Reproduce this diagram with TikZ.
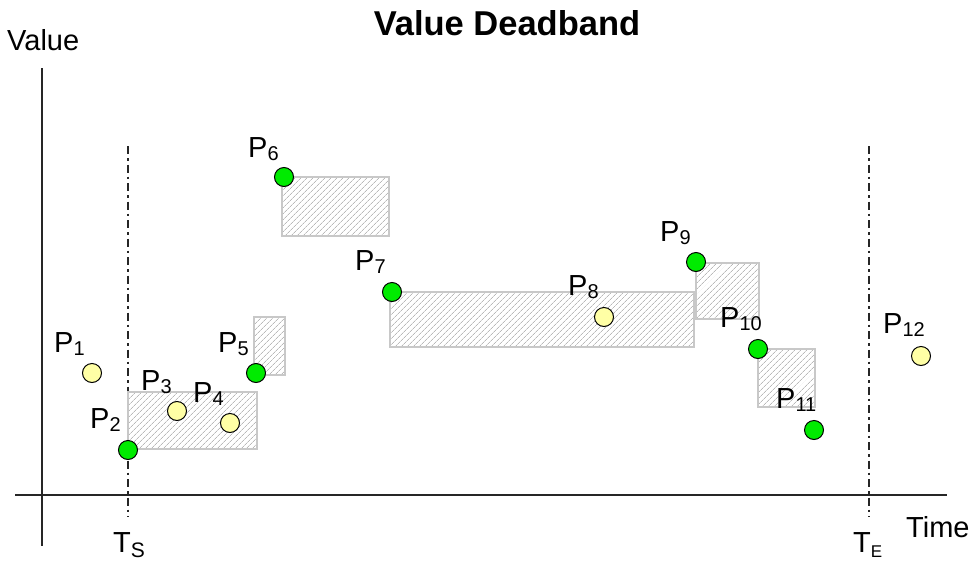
\documentclass[tikz,border=0pt]{standalone}
\usepackage{fontspec}
\setmainfont{Liberation Sans}
\usetikzlibrary{patterns.meta}
\definecolor{ptgreen}{RGB}{0,235,0}
\definecolor{ptyellow}{RGB}{255,255,165}
\definecolor{bandedge}{RGB}{200,200,200}
\definecolor{hatch}{RGB}{185,185,185}
\newcommand\lblsize{\fontsize{29}{29}\selectfont}
\newcommand\subsc[1]{\raisebox{-3pt}{\fontsize{20}{20}\selectfont #1}}
\tikzset{
  axisline/.style={line width=1.6pt,draw=black!85},
  timeline/.style={line width=1.4pt,draw=black!85,dash pattern=on 8pt off 4pt on 2.5pt off 4pt},
  band/.style={draw=bandedge,line width=1.5pt,fill=white,
    pattern={Lines[angle=45,distance=4pt,line width=0.7pt]},pattern color=hatch},
  pt/.style={circle,draw=black,line width=1pt,minimum size=19pt,inner sep=0pt},
  kept/.style={pt,fill=ptgreen},
  dropped/.style={pt,fill=ptyellow},
  lbl/.style={anchor=base west,inner sep=0pt,font=\lblsize},
}
\begin{document}
\begin{tikzpicture}[x=1pt,y=-1pt]
\useasboundingbox (0,0) rectangle (975,560);
% title
\node[anchor=base,inner sep=0pt,font=\fontsize{34.5}{34.5}\selectfont\bfseries] (title) at (507,35) {Value Deadband};
% axes
\coordinate (ytop) at (42,68); \coordinate (ybot) at (42,546);
\coordinate (xl) at (15,495); \coordinate (xr) at (947,495);
\draw[axisline] (ytop) -- (ybot);
\draw[axisline] (xl) -- (xr);
\node[lbl] (vlab) at (7,50) {Value};
\node[lbl] (tlab) at (906,537) {Time};
% start / end time
\coordinate (tsa) at (128,146); \coordinate (tsb) at (128,517);
\coordinate (tea) at (869,146); \coordinate (teb) at (869,517);
\draw[timeline] (tsa) -- (tsb);
\draw[timeline] (tea) -- (teb);
\node[lbl] (tslab) at (113,552) {T\raisebox{-5pt}{\fontsize{21}{21}\selectfont S}};
\node[lbl] (telab) at (853,552) {T\raisebox{-5pt}{\fontsize{17}{17}\selectfont E}};
% deadband rectangles
\path[band] (128,392) rectangle (257,449);
\path[band] (254,317) rectangle (285,375);
\path[band] (282,177) rectangle (389,236);
\path[band] (390,292) rectangle (694,347);
\path[band] (696,263) rectangle (759,319);
\path[band] (758,349) rectangle (815,407);
% points
\node[dropped] (p1) at (92,373) {};
\node[kept] (p2) at (128,450) {};
\node[dropped] (p3) at (177,411) {};
\node[dropped] (p4) at (230,423) {};
\node[kept] (p5) at (256,373) {};
\node[kept] (p6) at (284,177) {};
\node[kept] (p7) at (392,292) {};
\node[dropped] (p8) at (604,317) {};
\node[kept] (p9) at (696,262) {};
\node[kept] (p10) at (758,349) {};
\node[kept] (p11) at (814,430) {};
\node[dropped] (p12) at (921,356) {};
% labels
\node[lbl] (l1) at (54,352) {P\subsc{1}};
\node[lbl] (l2) at (90,428) {P\subsc{2}};
\node[lbl] (l3) at (141,390) {P\subsc{3}};
\node[lbl] (l4) at (193,402) {P\subsc{4}};
\node[lbl] (l5) at (218,352) {P\subsc{5}};
\node[lbl] (l6) at (248,157) {P\subsc{6}};
\node[lbl] (l7) at (355,270) {P\subsc{7}};
\node[lbl] (l8) at (568,295) {P\subsc{8}};
\node[lbl] (l9) at (660,241) {P\subsc{9}};
\node[lbl] (l10) at (720,327) {P\subsc{10}};
\node[lbl] (l11) at (776,408) {P\subsc{11}};
\node[lbl] (l12) at (883,333) {P\subsc{12}};
\end{tikzpicture}
\end{document}
